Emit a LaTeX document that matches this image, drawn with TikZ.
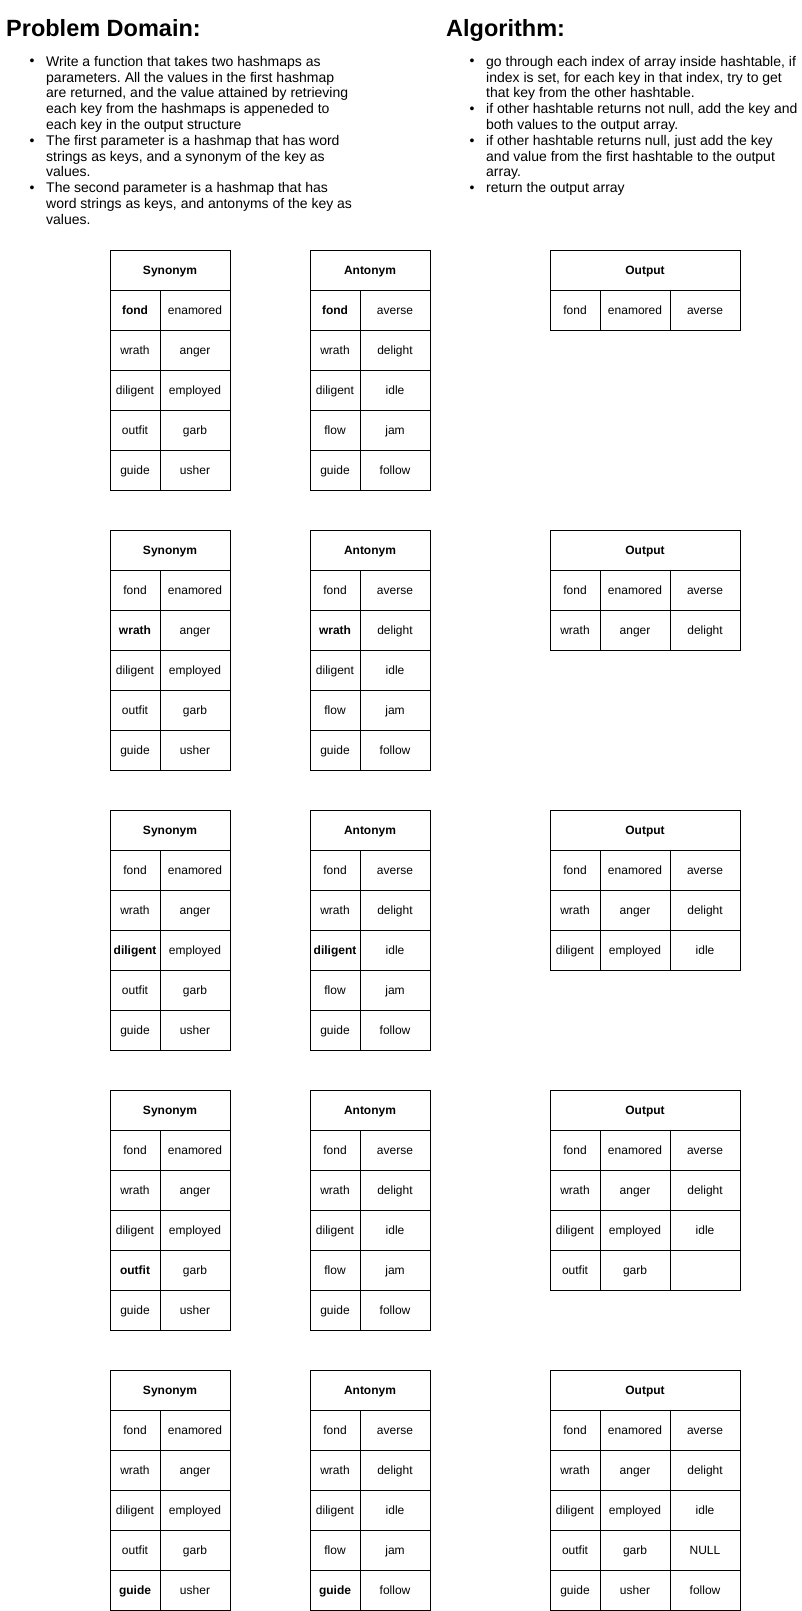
\documentclass[tikz,border=0pt]{standalone}
\usepackage{fontspec}
\setmainfont{Liberation Sans}
\begin{document}
\begin{tikzpicture}[x=1pt, y=-1pt,
    cell/.style={draw, line width=1pt, anchor=north west, inner sep=0pt, outer sep=0pt,
      minimum height=40pt, text height=10pt, text depth=1.8pt, font=\fontsize{12}{14}\selectfont},
    keycell/.style={cell, minimum width=50pt},
    valcell/.style={cell, minimum width=70pt},
    headcell/.style={cell, font=\fontsize{12}{14}\selectfont\bfseries},
    title/.style={anchor=base west, inner sep=0pt, font=\fontsize{23.5}{26}\selectfont\bfseries},
    item/.style={anchor=north west, inner sep=0pt, align=left, font=\fontsize{14}{15.8}\selectfont\frenchspacing},
    dot/.style={anchor=base, inner sep=0pt, font=\fontsize{14}{15.8}\selectfont}]
  \useasboundingbox (0, 0) rectangle (801, 1611);
  % problem domain
  \node[title] (pdtitle) at (6, 37) {Problem Domain:};
  \foreach \n/\txt [count=\i] in {
      0/{Write a function that takes two hashmaps as\\parameters. All the values in the first hashmap\\are returned, and the value attained by retrieving\\each key from the hashmaps is appeneded to\\each key in the output structure},
      5/{The first parameter is a hashmap that has word\\strings as keys, and a synonym of the key as\\values.},
      8/{The second parameter is a hashmap that has\\word strings as keys, and antonyms of the key as\\values.}}{
    \node[dot] (pddot\i) at (32, 66 + 15.8 * \n) {\textbullet};
    \node[item] (pdtext\i) at (46, 66 - 11.06 + 15.8 * \n) {\strut\txt};
  }
  % algorithm
  \node[title] (algtitle) at (446, 37) {Algorithm:};
  \foreach \n/\txt [count=\i] in {
      0/{go through each index of array inside hashtable, if\\index is set, for each key in that index, try to get\\that key from the other hashtable.},
      3/{if other hashtable returns not null, add the key and\\both values to the output array.},
      5/{if other hashtable returns null, just add the key\\and value from the first hashtable to the output\\array.},
      8/{return the output array}}{
    \node[dot] (algdot\i) at (472, 66 + 15.8 * \n) {\textbullet};
    \node[item] (algtext\i) at (486, 66 - 11.06 + 15.8 * \n) {\strut\txt};
  }
  % one step per key
  \foreach \g in {1, ..., 5}{
    \pgfmathsetmacro{\ytop}{250 + 280 * (\g - 1)}
    \node[headcell, minimum width=120pt] (syn\g) at (110, \ytop) {Synonym};
    \node[headcell, minimum width=120pt] (ant\g) at (310, \ytop) {Antonym};
    \node[headcell, minimum width=190pt] (out\g) at (550, \ytop) {Output};
    \foreach \wkey/\wsyn/\akey/\aant [count=\r] in {fond/enamored/fond/averse,
        wrath/anger/wrath/delight, diligent/employed/diligent/idle,
        outfit/garb/flow/jam, guide/usher/guide/follow}{
      \pgfmathsetmacro{\y}{\ytop + 40 * \r}
      \node[keycell] (syn\g-\r-k) at (110, \y) {\ifnum\r=\g\bfseries\fi\wkey};
      \node[valcell] (syn\g-\r-v) at (160, \y) {\wsyn};
      \node[keycell] (ant\g-\r-k) at (310, \y) {\ifnum\r=\g\ifnum\r=4\else\bfseries\fi\fi\akey};
      \node[valcell] (ant\g-\r-v) at (360, \y) {\aant};
      \ifnum\r>\g\else
        \ifnum\r=4
          \ifnum\g=4 \def\outval{}\else\def\outval{NULL}\fi
        \else
          \let\outval\aant
        \fi
        \node[keycell] (out\g-\r-k) at (550, \y) {\wkey};
        \node[valcell] (out\g-\r-s) at (600, \y) {\wsyn};
        \node[valcell] (out\g-\r-a) at (670, \y) {\outval};
      \fi
    }
  }
\end{tikzpicture}
\end{document}
